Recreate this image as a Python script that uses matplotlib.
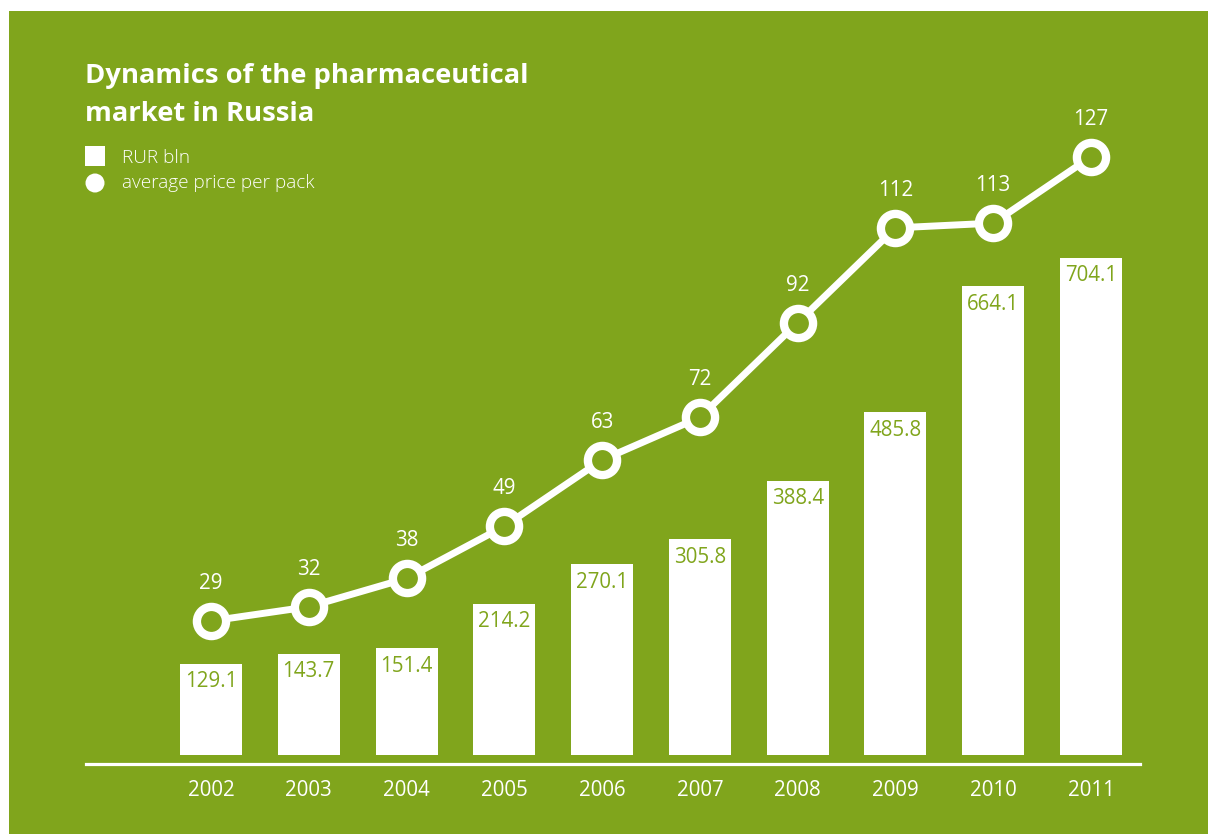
import matplotlib.pyplot as plt
from matplotlib.patches import Rectangle, Ellipse

years = ['2002', '2003', '2004', '2005', '2006', '2007', '2008', '2009', '2010', '2011']
market_rur_bln = [129.1, 143.7, 151.4, 214.2, 270.1, 305.8, 388.4, 485.8, 664.1, 704.1]
avg_price_per_pack = [29, 32, 38, 49, 63, 72, 92, 112, 113, 127]

GREEN = '#80a51c'
W, H = 1208, 834

plt.rcParams['font.family'] = ['Open Sans', 'DejaVu Sans']

fig = plt.figure(figsize=(W / 100, H / 100), dpi=100)
fig.patch.set_facecolor('white')
fig.patches.append(Rectangle((9 / W, 0), 1, 1 - 11 / H, transform=fig.transFigure,
                             facecolor=GREEN, edgecolor='none', zorder=-5))

# axes placed in pixel terms
left, right, top, bottom = 85, 1139, 100, 764
ax = fig.add_axes([(left + 1) / W, 1 - bottom / H, (right - left) / W, (bottom - top) / H])
ax.set_facecolor('none')

x = list(range(len(years)))
ax.bar(x, market_rur_bln, width=0.634, color='white', zorder=2)
for xi, v in zip(x, market_rur_bln):
    ax.annotate(f'{v:.1f}', (xi, v), xytext=(0, -13), textcoords='offset points',
                ha='center', va='center', color=GREEN, fontsize=14.8)

ax.set_xlim(-1.278, 9.501)
ax.set_ylim(-12.75, 927.8)
ax.set_xticks(x)
ax.set_xticklabels(years, color='white', fontsize=14.8)
ax.tick_params(axis='x', length=0, pad=11.5)
ax.set_yticks([])
for s in ['top', 'right', 'left']:
    ax.spines[s].set_visible(False)
ax.spines['bottom'].set_color('white')
ax.spines['bottom'].set_linewidth(2.3)

ax2 = ax.twinx()
ax2.set_ylim(-1.2, 139.0)
ax2.plot(x, avg_price_per_pack, color='white', linewidth=5, marker='o', markersize=21,
         markerfacecolor=GREEN, markeredgecolor='white', markeredgewidth=6, clip_on=False, zorder=3)
for xi, v in zip(x, avg_price_per_pack):
    ax2.annotate(str(v), (xi, v), xytext=(0, 27), textcoords='offset points',
                 ha='center', va='center', color='white', fontsize=14.8)
ax2.set_yticks([])
for s in ['top', 'right', 'left', 'bottom']:
    ax2.spines[s].set_visible(False)

# title
fig.text(85 / W, 1 - 83 / H, 'Dynamics of the pharmaceutical', color='white',
         fontsize=19.7, fontweight='bold', va='baseline')
fig.text(85 / W, 1 - 121 / H, 'market in Russia', color='white',
         fontsize=19.7, fontweight='bold', va='baseline')

# legend
fig.patches.append(Rectangle((85 / W, 1 - 166 / H), 20 / W, 20 / H, transform=fig.transFigure,
                             facecolor='white', edgecolor='none', zorder=2))
fig.patches.append(Ellipse((95 / W, 1 - 183 / H), 19 / W, 19 / H, transform=fig.transFigure,
                           facecolor='white', edgecolor='none', zorder=2))
fig.text(122 / W, 1 - 163 / H, 'RUR bln', color='white', fontsize=13.7,
         fontweight='light', va='baseline')
fig.text(122 / W, 1 - 188 / H, 'average price per pack', color='white', fontsize=13.7,
         fontweight='light', va='baseline')

fig.savefig('out.png', dpi=100, facecolor=fig.get_facecolor())
